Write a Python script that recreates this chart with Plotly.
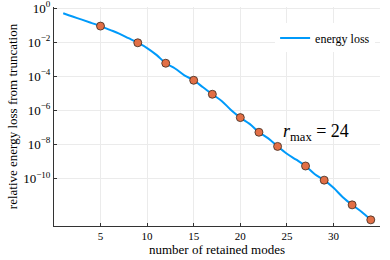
import plotly.graph_objects as go

modes = list(range(1, 35))
log_loss = [-0.31, -0.50, -0.68, -0.87, -1.06, -1.28, -1.50, -1.77, -2.04, -2.35,
            -2.75, -3.24, -3.55, -3.95, -4.24, -4.65, -5.06, -5.45, -5.98, -6.43,
            -6.80, -7.29, -7.65, -8.12, -8.55, -8.90, -9.27, -9.75, -10.10, -10.55,
            -11.10, -11.55, -11.95, -12.43]
loss = [10 ** v for v in log_loss]

marker_modes = [5, 9, 12, 15, 17, 20, 22, 24, 27, 29, 32, 34]
marker_loss = [loss[m - 1] for m in marker_modes]

x_ticks = [5, 10, 15, 20, 25, 30]
y_exps = [0, -2, -4, -6, -8, -10]
y_tickvals = [10 ** e for e in y_exps]
y_ticktext = ["10<sup>%s</sup>" % (str(e).replace("-", "−")) for e in y_exps]

FONT = "Liberation Serif"

fig = go.Figure()
fig.add_trace(go.Scatter(x=modes, y=loss, mode="lines", name="energy loss",
                         line=dict(color="#009AFA", width=2, shape="spline")))
fig.add_trace(go.Scatter(x=marker_modes, y=marker_loss, mode="markers", showlegend=False,
                         marker=dict(color="#E26F46", size=8,
                                     line=dict(color="#3a2a20", width=0.8))))

fig.add_annotation(x=28.1, y=-7.28, xref="x", yref="y",
                   text="<i>r</i><sub>max</sub> = 24", showarrow=False,
                   font=dict(family=FONT, size=18, color="black"))

fig.update_layout(
    width=390, height=260,
    margin=dict(l=54, r=10, t=7, b=34),
    paper_bgcolor="white", plot_bgcolor="white",
    font=dict(family=FONT, size=11, color="black"),
    legend=dict(x=0.985, y=0.925, xanchor="right", yanchor="top",
                bgcolor="white", font=dict(family=FONT, size=12),
                itemwidth=30),
    xaxis=dict(range=[0.01, 34.99], tickvals=x_ticks, showgrid=True,
               gridcolor="#ebebeb", gridwidth=0.5, showline=True, linecolor="#333",
               linewidth=1, ticks="inside", ticklen=3, tickcolor="#333",
               zeroline=False, mirror=False, automargin=False,
               title=dict(text="number of retained modes", font=dict(size=13), standoff=2)),
    yaxis=dict(type="log", range=[-12.79, 0.06], tickvals=y_tickvals, ticktext=y_ticktext,
               showgrid=True, gridcolor="#ebebeb", gridwidth=0.5, showline=True,
               linecolor="#333", linewidth=1, ticks="inside", ticklen=3, tickcolor="#333",
               zeroline=False, tickfont=dict(size=13), automargin=False,
               ticklabeloverflow="allow",
               title=dict(text="relative energy loss from truncation", font=dict(size=13), standoff=2)),
)

fig.write_html("out.html", post_script="document.body.style.margin='0px';",
               config={"displayModeBar": False})
